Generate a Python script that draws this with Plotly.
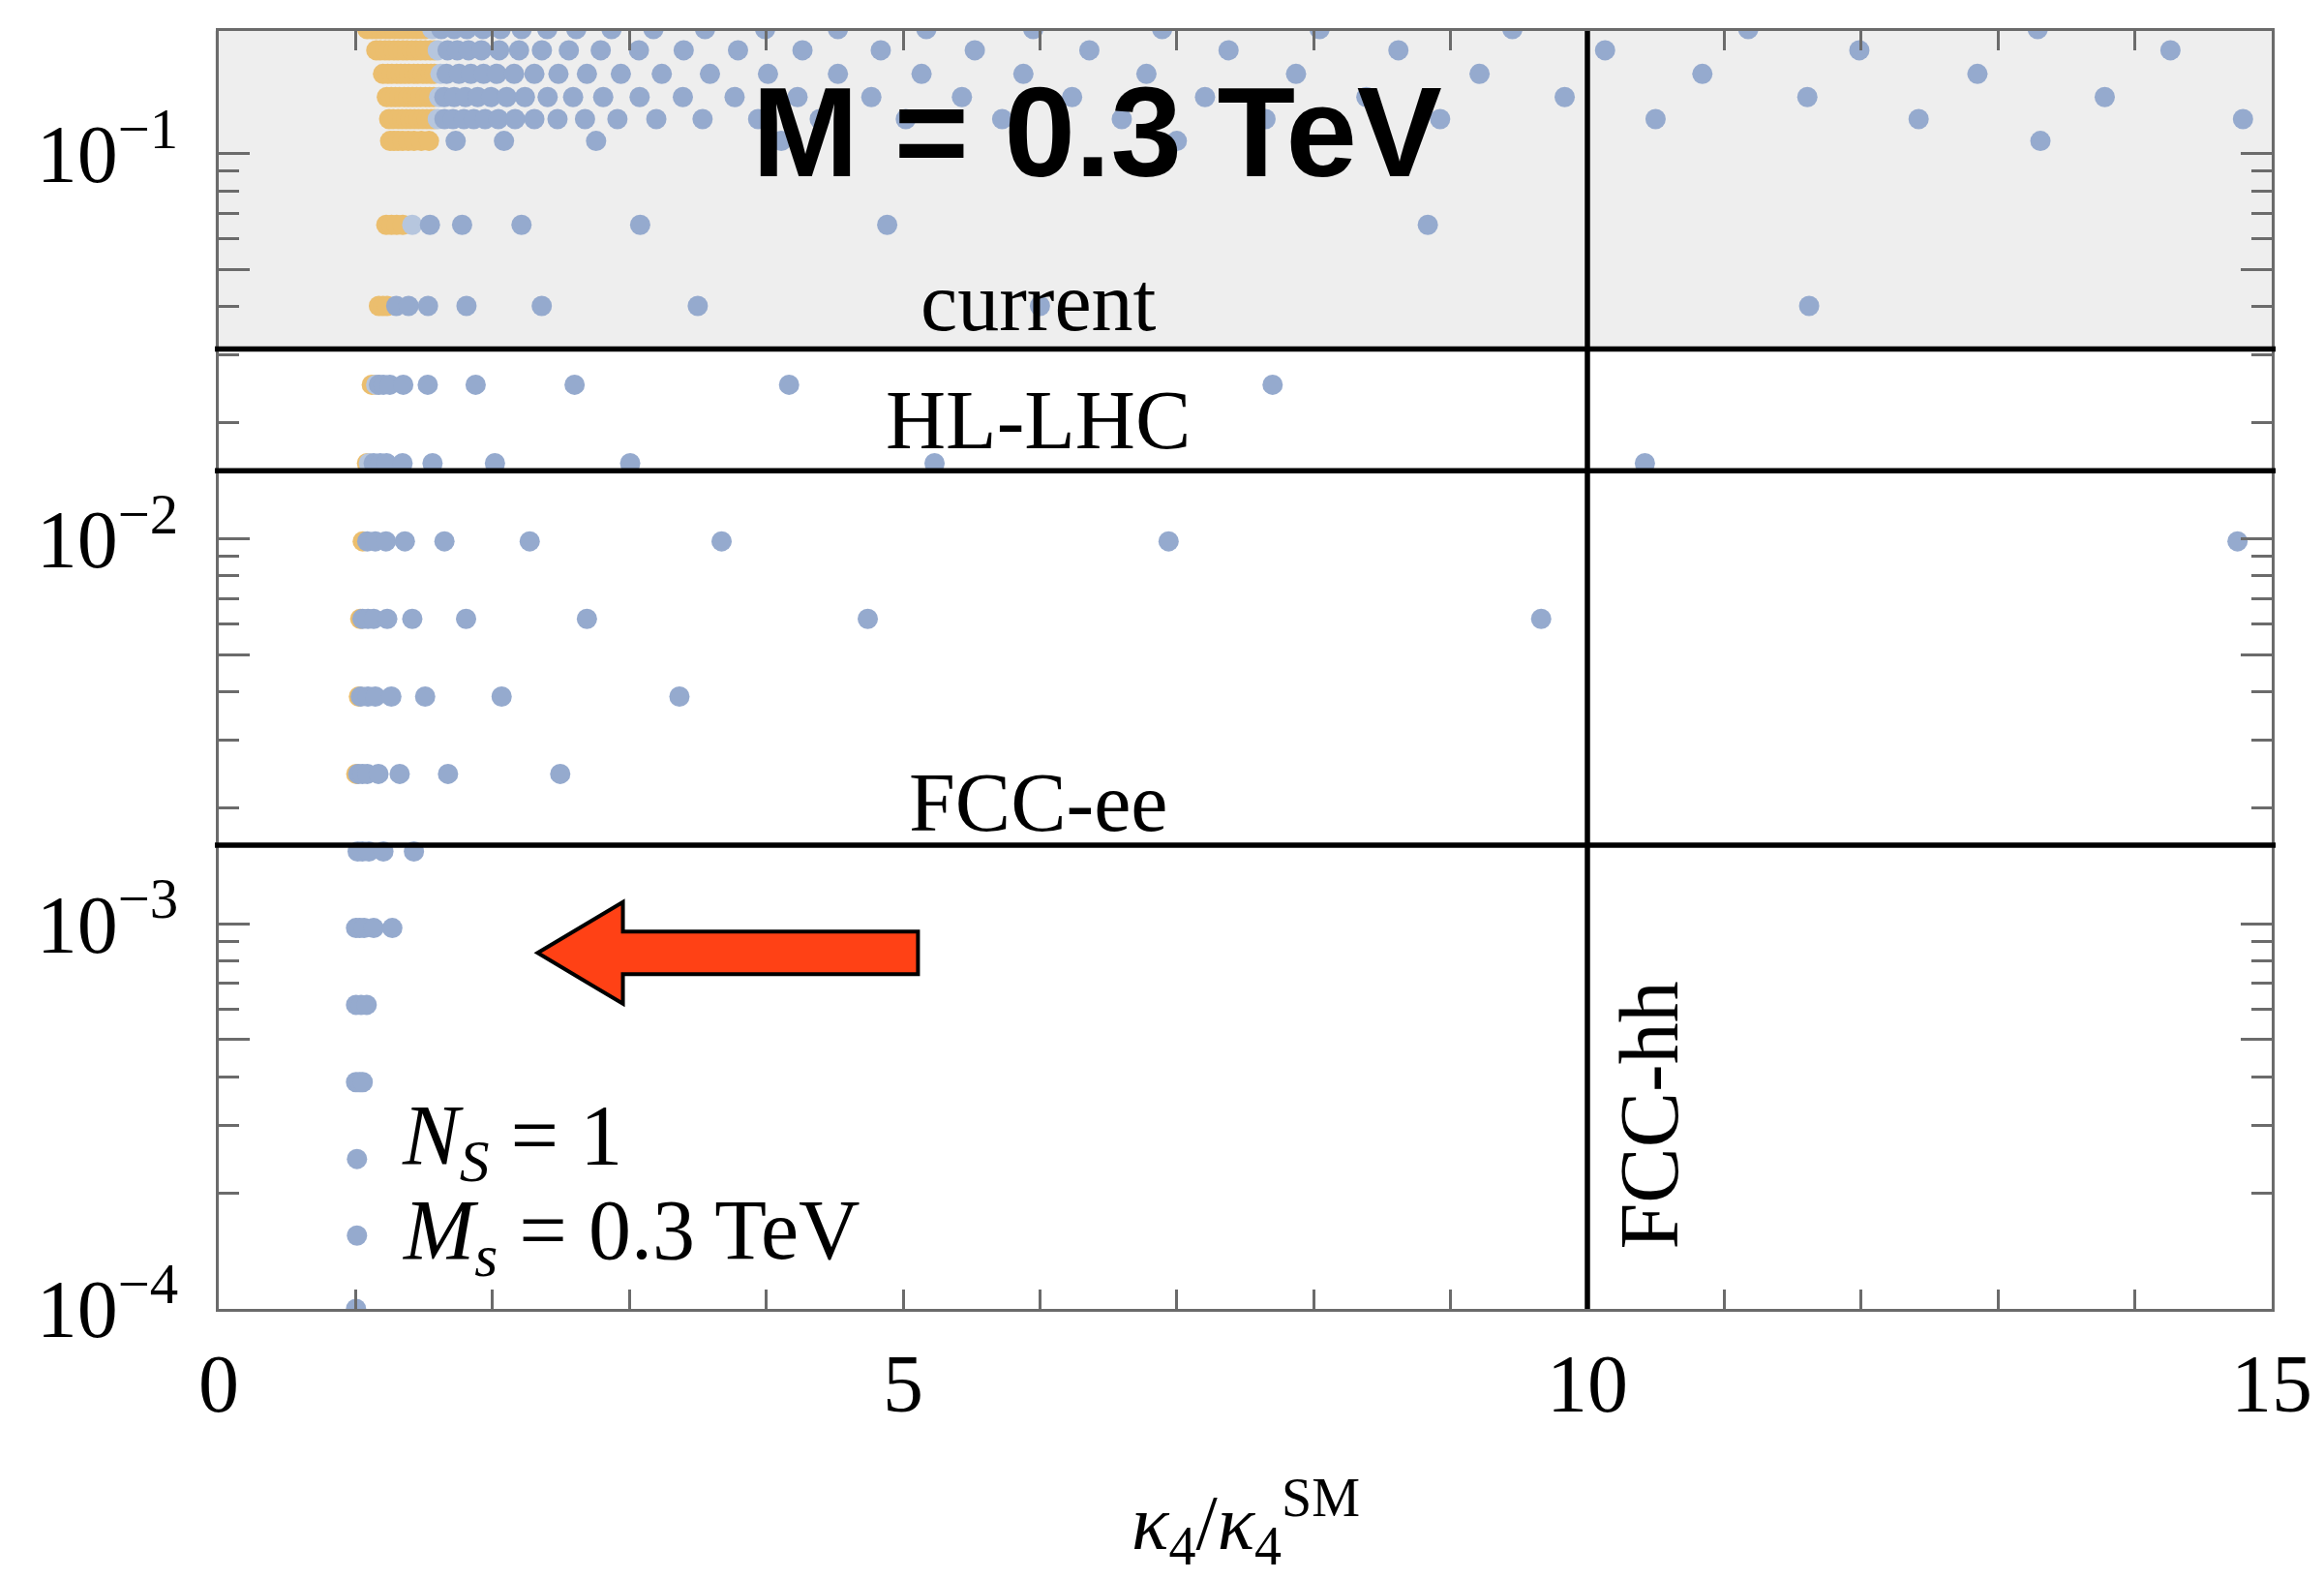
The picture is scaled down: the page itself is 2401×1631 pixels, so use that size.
import math
import plotly.graph_objects as go

# ---------------- data ----------------
# y value of each row of scan points
ROW_Y = [1.0e-4, 1.55e-4, 2.45e-4, 3.88e-4, 6.16e-4, 9.75e-4, 1.54e-3, 2.45e-3,
         3.89e-3, 6.19e-3, 9.84e-3, 0.0157, 0.0251, 0.0402, 0.0653,
         0.1078, 0.1229, 0.1402, 0.1610, 0.1854, 0.2105]

# kappa4 / kappa4^SM of the blue points in each row
BLUE_X = [
    [1.003],
    [1.010],
    [1.010],
    [1.003, 1.03, 1.052],
    [1.003, 1.04, 1.081],
    [1.003, 1.03, 1.062, 1.132, 1.268],
    [1.015, 1.05, 1.097, 1.203, 1.426],
    [1.019, 1.05, 1.085, 1.167, 1.322, 1.675, 2.495],
    [1.038, 1.09, 1.144, 1.261, 1.508, 2.067, 3.366],
    [1.050, 1.09, 1.132, 1.231, 1.414, 1.807, 2.690, 4.742, 9.662],
    [1.085, 1.144, 1.222, 1.360, 1.649, 2.272, 3.674, 6.94, 14.75],
    [1.132, 1.18, 1.226, 1.343, 1.562, 2.018, 3.006, 5.23, 10.42],
    [1.17, 1.203, 1.250, 1.348, 1.527, 1.877, 2.600, 4.167, 7.70],
    [1.297, 1.387, 1.529, 1.81, 2.36, 3.50, 6.0, 11.62],
    [1.543, 1.778, 2.212, 3.079, 4.884, 8.834],
    [1.731, 2.084, 2.757, 4.11, 7.0, 13.31],
    [1.649, 1.712, 1.791, 1.863, 1.946, 2.043, 2.165, 2.306, 2.475, 2.676, 2.913,
     3.197, 3.535, 3.941, 4.391, 5.020, 5.724, 6.598, 7.648, 8.924, 10.498, 12.42, 14.79],
    [1.648, 1.720, 1.802, 1.892, 1.989, 2.104, 2.237, 2.403, 2.589, 2.809, 3.075,
     3.391, 3.769, 4.229, 4.768, 5.430, 6.235, 7.206, 8.385, 9.834, 11.607, 13.78],
    [1.665, 1.755, 1.842, 1.935, 2.032, 2.158, 2.306, 2.482, 2.690, 2.938, 3.237,
     3.589, 4.013, 4.524, 5.135, 5.879, 6.778, 7.871, 9.212, 10.84, 12.85],
    [1.672, 1.743, 1.825, 1.919, 2.049, 2.194, 2.361, 2.558, 2.791, 3.070, 3.397,
     3.794, 4.265, 4.837, 5.524, 6.361, 7.378, 8.619, 10.129, 11.987, 14.26],
    [1.626, 1.72, 1.813, 1.931, 2.06, 2.213, 2.4, 2.612, 2.87, 3.176, 3.553,
     3.992, 4.524, 5.17, 5.951, 6.893, 8.043, 9.452, 11.175, 13.29],
]

# light blue points (per row, where present)
LIGHT_X = [[], [], [], [], [], [], [], [], [], [], [], [1.097], [1.15], [], [1.414],
           [], [1.60], [1.61], [1.62], [1.60], [1.56]]

# orange points in each row
ORANGE_X = [
    [], [], [], [], [], [], [],
    [1.005],
    [1.024],
    [1.034],
    [1.052],
    [1.083],
    [1.118, 1.15],
    [1.17, 1.20, 1.23],
    [1.224, 1.262, 1.30, 1.344],
    [1.252, 1.28, 1.31, 1.344, 1.385, 1.427, 1.48, 1.536],
    [1.245, 1.275, 1.31, 1.34, 1.37, 1.40, 1.43, 1.46, 1.49, 1.52, 1.55, 1.575],
    [1.228, 1.26, 1.29, 1.32, 1.355, 1.385, 1.415, 1.445, 1.475, 1.51, 1.54, 1.57],
    [1.20, 1.235, 1.265, 1.30, 1.33, 1.36, 1.39, 1.425, 1.455, 1.49, 1.52, 1.55, 1.575],
    [1.151, 1.18, 1.215, 1.245, 1.28, 1.31, 1.345, 1.375, 1.41, 1.44, 1.475, 1.51, 1.545, 1.575],
    [1.085, 1.12, 1.15, 1.185, 1.22, 1.25, 1.285, 1.32, 1.35, 1.385, 1.42, 1.45, 1.48, 1.51],
]

# sensitivity boundaries
CURRENT_BOUND = 0.0311
HLLHC_BOUND = 0.0150
FCCEE_BOUND = 0.00160
FCCHH_BOUND = 10.0

X_MAJOR = [0, 5, 10, 15]
X_LABELS = ["0", "5", "10", "15"]
X_MINOR = [1, 2, 3, 4, 6, 7, 8, 9, 11, 12, 13, 14]
Y_MAJOR = [1e-4, 5e-4, 1e-3, 5e-3, 1e-2, 5e-2, 1e-1]
Y_LABELS = ["10<sup>\u22124</sup>", "", "10<sup>\u22123</sup>", "",
            "10<sup>\u22122</sup>", "", "10<sup>\u22121</sup>"]
Y_MINOR = [2e-4, 3e-4, 4e-4, 6e-4, 7e-4, 8e-4, 9e-4,
           2e-3, 3e-3, 4e-3, 6e-3, 7e-3, 8e-3, 9e-3,
           2e-2, 3e-2, 4e-2, 6e-2, 7e-2, 8e-2, 9e-2]
X_TITLE = "<i>\u03ba</i><sub>4</sub>/<i>\u03ba</i><sub>4</sub><sup>SM</sup>"

# ---------------- layout constants ----------------
W, H = 2401, 1631
ML, MR, MT, MB = 226, 47, 32, 279
PLOT_H = H - MT - MB
LOG_LO = -4.0
LOG_HI = -4.0 + PLOT_H / 397.8

BLUE = "#95AACE"
LIGHT = "#B6C6DE"
ORANGE = "#EBBE6E"
GRAY = "#6b6b6b"
SERIF = "Liberation Serif, Times New Roman, serif"


def py(logv):
    """log10 value -> paper y fraction"""
    return (logv - LOG_LO) / (LOG_HI - LOG_LO)


def flat(rows):
    xs, ys = [], []
    for yv, row in zip(ROW_Y, rows):
        for xv in row:
            xs.append(xv)
            ys.append(yv)
    return xs, ys


fig = go.Figure()
for rows, col in [(ORANGE_X, ORANGE), (LIGHT_X, LIGHT), (BLUE_X, BLUE)]:
    xs, ys = flat(rows)
    fig.add_trace(go.Scatter(x=xs, y=ys, mode="markers",
                             marker=dict(size=21, color=col, line=dict(width=0)),
                             showlegend=False, hoverinfo="skip"))

shapes = []
# grey "current" band
shapes.append(dict(type="rect", xref="paper", yref="paper", x0=-0.0019, x1=1.0019,
                   y0=py(math.log10(CURRENT_BOUND)), y1=1.0, fillcolor="#EEEEEE",
                   line=dict(width=0), layer="below"))
for b in [CURRENT_BOUND, HLLHC_BOUND, FCCEE_BOUND]:
    yy = py(math.log10(b))
    shapes.append(dict(type="line", xref="paper", yref="paper", x0=-0.0019, x1=1.0019,
                       y0=yy, y1=yy, line=dict(color="black", width=5.5), layer="above"))
shapes.append(dict(type="line", xref="x", yref="paper", x0=FCCHH_BOUND, x1=FCCHH_BOUND,
                   y0=0, y1=1, line=dict(color="black", width=5.5), layer="above"))

# arrow (pointing left)
tip_x, base_x, tail_x = 2.33, 2.953, 5.109
yc = -3.0757
head_h, shaft_h = 0.132, 0.0552
pts = [(tip_x, yc), (base_x, yc + head_h), (base_x, yc + shaft_h), (tail_x, yc + shaft_h),
       (tail_x, yc - shaft_h), (base_x, yc - shaft_h), (base_x, yc - head_h)]
path = "M " + " L ".join(f"{x},{py(y)}" for x, y in pts) + " Z"
shapes.append(dict(type="path", xref="x", yref="paper", path=path,
                   fillcolor="#FF4115", line=dict(color="black", width=4), layer="above"))

annotations = []


def label(text, x, logy, size=86, family=SERIF, xanchor="center", **kw):
    annotations.append(dict(text=text, x=x, y=py(logy), xref="x", yref="paper",
                            xanchor=xanchor, yanchor="middle",
                            showarrow=False, font=dict(size=size, family=family, color="black"),
                            **kw))


label("current", 5.99, -1.386)
label("HL-LHC", 5.99, -1.692)
label("FCC-ee", 5.99, -2.685)
label("FCC-hh", 10.45, -3.497, textangle=-90)
label("<b>M = 0.3 TeV</b>", 6.42, -0.945, size=132,
      family="Liberation Sans, Arial, Helvetica, sans-serif")
label("<i>N</i><sub><i>S</i></sub> = 1", 1.325, -3.565, size=88, xanchor="left")
label("<i>M</i><sub><i>s</i></sub> = 0.3 TeV", 1.325, -3.81, size=88, xanchor="left")

# x-axis title placed below the tick labels
annotations.append(dict(text=X_TITLE, x=0.5, y=-(1572 - (H - MB)) / PLOT_H,
                        xref="paper", yref="paper", xanchor="center", yanchor="middle",
                        showarrow=False, font=dict(size=80, family=SERIF, color="black")))

fig.update_layout(
    width=W, height=H,
    margin=dict(l=ML, r=MR, t=MT, b=MB, pad=0),
    paper_bgcolor="white", plot_bgcolor="white",
    shapes=shapes, annotations=annotations,
    showlegend=False,
    font=dict(family=SERIF, color="black"),
)
fig.update_xaxes(
    range=[0, 15], showgrid=False, zeroline=False,
    showline=True, linecolor=GRAY, linewidth=3, mirror="allticks",
    ticks="inside", ticklen=20, tickwidth=2.5, tickcolor=GRAY,
    tickmode="array", tickvals=X_MAJOR, ticktext=X_LABELS,
    tickfont=dict(size=84, family=SERIF, color="black"),
    ticklabelstandoff=2,
    minor=dict(tickmode="array", tickvals=X_MINOR, ticks="inside", ticklen=20,
               tickwidth=2.5, tickcolor=GRAY, showgrid=False),
)
fig.update_yaxes(
    type="log", range=[LOG_LO, LOG_HI], showgrid=False, zeroline=False,
    showline=True, linecolor=GRAY, linewidth=3, mirror="allticks",
    ticks="inside", ticklen=32, tickwidth=2.5, tickcolor=GRAY,
    tickmode="array", tickvals=Y_MAJOR, ticktext=Y_LABELS,
    tickfont=dict(size=84, family=SERIF, color="black"),
    ticklabelstandoff=22,
    minor=dict(tickmode="array", tickvals=Y_MINOR, ticks="inside", ticklen=21,
               tickwidth=2.5, tickcolor=GRAY, showgrid=False),
)

fig.write_html("out.html")
